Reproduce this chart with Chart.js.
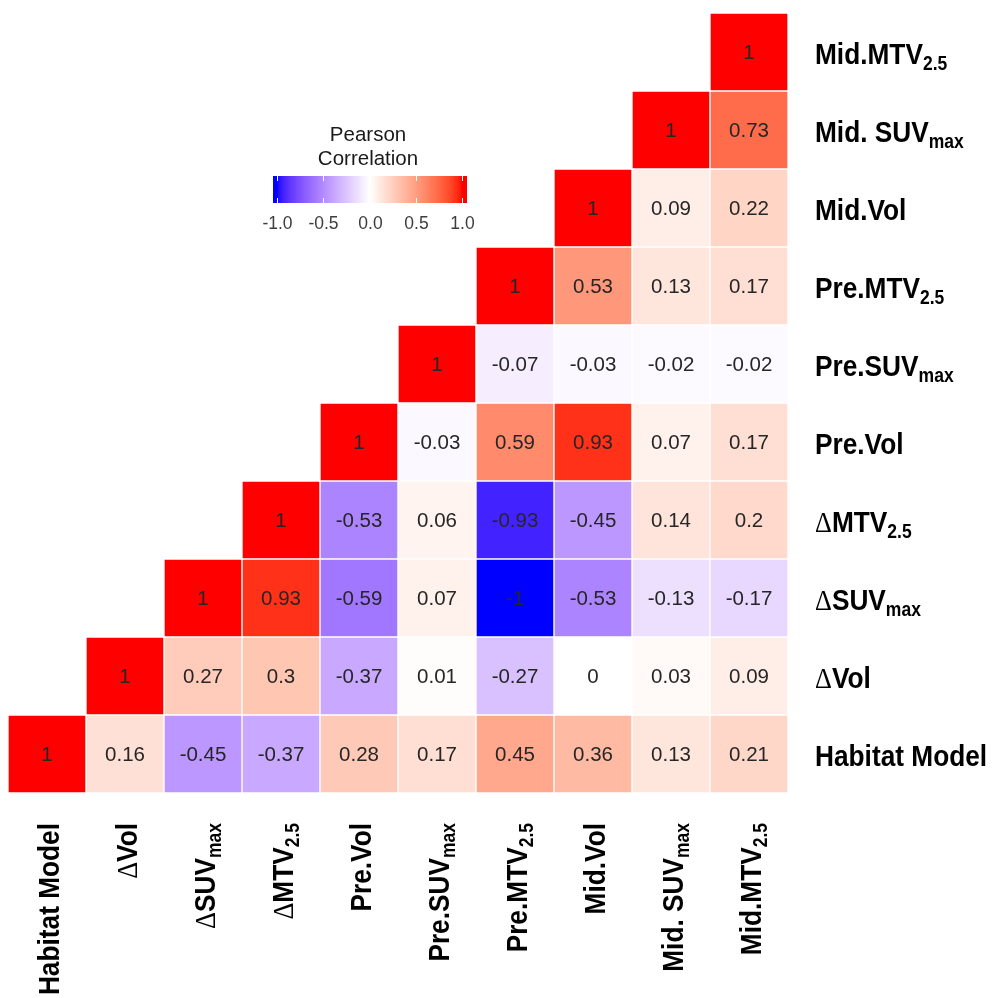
<!DOCTYPE html>
<html>
<head>
<meta charset="utf-8">
<script src="https://cdn.jsdelivr.net/npm/chart.js@4.4.0/dist/chart.umd.min.js"></script>
<style>
  body { margin: 0; background: #fff; }
  canvas { display: block; }
</style>
</head>
<body>
<canvas id="corrChart" width="993" height="998"></canvas>
<script>
// variables: bottom row / left column first
const varNames = ['Habitat Model', 'ΔVol', 'ΔSUV', 'ΔMTV', 'Pre.Vol', 'Pre.SUV', 'Pre.MTV', 'Mid.Vol', 'Mid. SUV', 'Mid.MTV'];
const varSubs = ['', '', 'max', '2.5', '', 'max', '2.5', '', 'max', '2.5'];

// correlations of each row, starting at its diagonal cell
const rHabitat = [1, 0.16, -0.45, -0.37, 0.28, 0.17, 0.45, 0.36, 0.13, 0.21];
const rDeltaVol = [1, 0.27, 0.3, -0.37, 0.01, -0.27, 0, 0.03, 0.09];
const rDeltaSuv = [1, 0.93, -0.59, 0.07, -1, -0.53, -0.13, -0.17];
const rDeltaMtv = [1, -0.53, 0.06, -0.93, -0.45, 0.14, 0.2];
const rPreVol = [1, -0.03, 0.59, 0.93, 0.07, 0.17];
const rPreSuv = [1, -0.07, -0.03, -0.02, -0.02];
const rPreMtv = [1, 0.53, 0.13, 0.17];
const rMidVol = [1, 0.09, 0.22];
const rMidSuv = [1, 0.73];
const rMidMtv = [1];

const corrRows = [rHabitat, rDeltaVol, rDeltaSuv, rDeltaMtv, rPreVol, rPreSuv, rPreMtv, rMidVol, rMidSuv, rMidMtv];

const legendTicks = [-1, -0.5, 0, 0.5, 1];

// blue - white - red, interpolated in Lab like ggplot's gradient2
function toLinear(c) {
  c /= 255;
  return c <= 0.04045 ? c / 12.92 : Math.pow((c + 0.055) / 1.055, 2.4);
}
function fromLinear(c) {
  const v = c <= 0.0031308 ? 12.92 * c : 1.055 * Math.pow(c, 1 / 2.4) - 0.055;
  return Math.round(Math.max(0, Math.min(1, v)) * 255);
}
function rgbToLab([r, g, b]) {
  r = toLinear(r); g = toLinear(g); b = toLinear(b);
  let x = (0.4124 * r + 0.3576 * g + 0.1805 * b) / 0.95047;
  let y = 0.2126 * r + 0.7152 * g + 0.0722 * b;
  let z = (0.0193 * r + 0.1192 * g + 0.9505 * b) / 1.08883;
  const f = t => t > 0.008856 ? Math.cbrt(t) : 7.787 * t + 16 / 116;
  x = f(x); y = f(y); z = f(z);
  return [116 * y - 16, 500 * (x - y), 200 * (y - z)];
}
function labToRgb([L, a, bb]) {
  let y = (L + 16) / 116;
  let x = a / 500 + y;
  let z = y - bb / 200;
  const fi = t => t * t * t > 0.008856 ? t * t * t : (t - 16 / 116) / 7.787;
  x = fi(x) * 0.95047; y = fi(y); z = fi(z) * 1.08883;
  const r = 3.2406 * x - 1.5372 * y - 0.4986 * z;
  const g = -0.9689 * x + 1.8758 * y + 0.0415 * z;
  const b = 0.0557 * x - 0.2040 * y + 1.0570 * z;
  return [fromLinear(r), fromLinear(g), fromLinear(b)];
}
const labBlue = rgbToLab([0, 0, 255]);
const labWhite = rgbToLab([255, 255, 255]);
const labRed = rgbToLab([255, 0, 0]);

function corrColor(v) {
  const end = v < 0 ? labBlue : labRed;
  const t = Math.min(1, Math.abs(v));
  const lab = labWhite.map((w, i) => w + (end[i] - w) * t);
  const [r, g, b] = labToRgb(lab);
  return `rgb(${r},${g},${b})`;
}

// text pieces of an axis label: delta sign, name, subscript
function labelParts(i) {
  const parts = [];
  let name = varNames[i];
  if (name.startsWith('Δ')) {
    parts.push({ text: 'Δ', font: '30px "Liberation Serif", serif', dy: 0 });
    name = name.slice(1);
  }
  parts.push({ text: name, font: 'bold 30px "Liberation Sans", Arial, sans-serif', dy: 0 });
  if (varSubs[i]) {
    parts.push({ text: varSubs[i], font: 'bold 20px "Liberation Sans", Arial, sans-serif', dy: 6 });
  }
  return parts;
}
function partsWidth(ctx, parts) {
  return parts.reduce((w, p) => {
    ctx.font = p.font;
    return w + ctx.measureText(p.text).width;
  }, 0);
}
function drawParts(ctx, parts, x, y) {
  parts.forEach(p => {
    ctx.font = p.font;
    ctx.fillText(p.text, x, y + p.dy);
    x += ctx.measureText(p.text).width;
  });
}

const NARROW = 0.875;

const axisLabels = {
  id: 'axisLabels',
  afterDraw(chart) {
    const { ctx, scales: { x, y }, chartArea } = chart;
    ctx.save();
    ctx.fillStyle = '#000';
    ctx.textAlign = 'left';
    ctx.textBaseline = 'alphabetic';
    varNames.forEach((_, i) => {
      const parts = labelParts(i);
      // row labels on the right
      const cy = y.getPixelForValue(i + 0.5);
      ctx.save();
      ctx.translate(chartArea.right + 27, cy + 12);
      ctx.scale(NARROW, 1);
      drawParts(ctx, parts, 0, 0);
      ctx.restore();
      // column labels underneath, reading upwards
      const cx = x.getPixelForValue(i);
      ctx.save();
      ctx.translate(cx + 12, chartArea.bottom + 30);
      ctx.rotate(-Math.PI / 2);
      ctx.scale(NARROW, 1);
      drawParts(ctx, parts, -partsWidth(ctx, parts), 0);
      ctx.restore();
    });
    ctx.restore();
  }
};

const cellValues = {
  id: 'cellValues',
  afterDatasetsDraw(chart) {
    const { ctx } = chart;
    ctx.save();
    ctx.fillStyle = '#262626';
    ctx.font = '20.5px "Liberation Sans", Arial, sans-serif';
    ctx.textAlign = 'center';
    ctx.textBaseline = 'alphabetic';
    chart.data.datasets.forEach((ds, di) => {
      chart.getDatasetMeta(di).data.forEach((bar, ci) => {
        const v = ds.values[ci];
        if (v === null) return;
        ctx.fillText(String(v), bar.x, (bar.y + bar.base) / 2 + 7);
      });
    });
    ctx.restore();
  }
};

// colour bar legend
const colorBar = {
  id: 'colorBar',
  afterDraw(chart) {
    const { ctx } = chart;
    const left = 273, right = 467, top = 176, bottom = 203;
    const zeroX = 369.5, unit = 92.5;
    ctx.save();
    for (let px = left; px < right; px++) {
      const v = Math.max(-1, Math.min(1, (px + 0.5 - zeroX) / unit));
      ctx.fillStyle = corrColor(v);
      ctx.fillRect(px, top, 1, bottom - top);
    }
    ctx.strokeStyle = '#fff';
    ctx.lineWidth = 1;
    ctx.fillStyle = '#3d3d3d';
    ctx.font = '17.5px "Liberation Sans", Arial, sans-serif';
    ctx.textAlign = 'center';
    ctx.textBaseline = 'alphabetic';
    legendTicks.forEach(t => {
      const tx = Math.round(zeroX + t * unit) + 0.5;
      ctx.beginPath();
      ctx.moveTo(tx, top); ctx.lineTo(tx, top + 5);
      ctx.moveTo(tx, bottom - 5); ctx.lineTo(tx, bottom);
      ctx.stroke();
      ctx.fillText(t.toFixed(1), tx, 229);
    });
    ctx.fillStyle = '#1a1a1a';
    ctx.font = '20.5px "Liberation Sans", Arial, sans-serif';
    ctx.fillText('Pearson', 368, 141);
    ctx.fillText('Correlation', 368, 165);
    ctx.restore();
  }
};

// one floating-bar dataset per row; cells exist where column >= row
const datasets = corrRows.map((vals, r) => {
  const full = varNames.map((_, c) => (c >= r ? vals[c - r] : null));
  return {
    label: varNames[r] + varSubs[r],
    data: full.map(v => (v === null ? null : [r, r + 1])),
    values: full,
    backgroundColor: full.map(v => (v === null ? 'rgba(0,0,0,0)' : corrColor(v))),
    borderColor: '#ffffff',
    borderWidth: 1,
    borderSkipped: false,
    grouped: false,
    barPercentage: 1,
    categoryPercentage: 1
  };
});

new Chart(document.getElementById('corrChart'), {
  type: 'bar',
  data: {
    labels: varNames.map((n, i) => n + varSubs[i]),
    datasets
  },
  options: {
    responsive: false,
    animation: false,
    layout: { padding: { left: 8, top: 13, right: 205, bottom: 205 } },
    scales: {
      x: { display: false },
      y: { display: false, min: 0, max: 10 }
    },
    plugins: {
      legend: { display: false },
      tooltip: { enabled: false }
    }
  },
  plugins: [cellValues, axisLabels, colorBar]
});
</script>
</body>
</html>
